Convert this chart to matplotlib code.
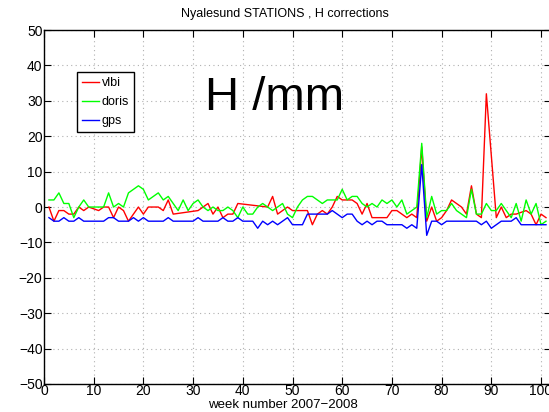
import matplotlib

matplotlib.use("Agg")

import matplotlib.pyplot as plt

plt.rcParams["font.family"] = ["Liberation Sans", "DejaVu Sans"]

weeks = list(range(1, 102))

gps_h = [
    -3, -4, -4, -3, -4, -4, -3, -4, -4, -4,
    -4, -4, -3, -3, -4, -4, -4, -3, -4, -3,
    -4, -4, -4, -4, -3, -4, -4, -4, -4, -4,
    -3, -4, -4, -4, -4, -3, -4, -4, -3, -4,
    -4, -4, -6, -4, -5, -4, -5, -4, -3, -5,
    -5, -5, -2, -2, -2, -2, -2, -1, -2, -3,
    -2, -2, -4, -5, -4, -5, -4, -4, -5, -5,
    -5, -5, -6, -5, -6, 12, -8, -4, -4, -5,
    -4, -4, -4, -4, -4, -4, -4, -5, -4, -6,
    -5, -4, -4, -4, -3, -5, -5, -5, -5, -5, -5,
]

doris_h = [
    2, 2, 4, 1, 1, -3, 0, 2, 0, 0,
    0, 0, 4, 0, 1, 0, 4, 5, 6, 5,
    2, 3, 4, 2, 3, 1, -1, 2, -1, 1,
    2, 0, -1, 0, -1, -1, 0, -1, -3, 0,
    -2, -2, 0, 1, 0, -1, 0, 1, -2, -3,
    0, 2, 3, 3, 2, 1, 2, 2, 2, 5,
    2, 3, 3, 1, 0, 1, 0, 2, 1, 2,
    0, 2, -2, -1, 0, 18, -3, 3, -2, -1,
    -1, 1, -1, -2, -3, 5, -2, -2, 1, -1,
    -1, 1, -1, -3, 1, -4, 2, -2, 1, -5, -4,
]

# vlbi has no solutions for weeks 27-30, 40-44 and 90
vlbi_weeks = list(range(1, 27)) + list(range(31, 40)) + list(range(45, 90)) + list(range(91, 102))
vlbi_h = [
    0, -4, -1, -1, -2, -2, 0, -1, 0, -0.5,
    -1, 0, 0, -3, 0, -1, -4, -2, 0, -2,
    0, 0, 0, -1, 2, -2,
    -1, 0, 1, -2, 0, -3, -2, -2, 1,
    0, 3, -2, -1, 0, -1, -1, -1, -1, -5,
    -2, -1, -2, 0, 3, 2, 2, 2, 1, -2,
    1, -3, -3, -3, -3, -1, -1, -2, -3, -2,
    -3, 17, -4, 0, -4, -3, -1, 2, 1, 0,
    -2, 6, -2, -3, 32,
    -3, 0, -3, -2, -2, -1.5, -1, -2, -5, -2, -3,
]

fig = plt.figure(figsize=(5.49, 4.12), dpi=100)
ax = fig.add_axes([0.0801, 0.068, 0.9235, 0.859])

ax.plot(vlbi_weeks, vlbi_h, color="#ff0000", lw=1.0, label="vlbi")
ax.plot(weeks, doris_h, color="#00ff00", lw=1.0, label="doris")
ax.plot(weeks, gps_h, color="#0000ff", lw=1.0, label="gps")

ax.set_xlim(0, 102)
ax.set_ylim(-50, 50)
ax.set_xticks(range(0, 101, 10))
ax.set_yticks(range(-50, 51, 10))
ax.grid(True, linestyle=(0, (1, 3)), color="#b0b0b0", lw=0.8)
ax.tick_params(direction="in", top=True, right=True, length=5, labelsize=10)
ax.tick_params(axis="x", pad=0)
ax.tick_params(axis="y", pad=1)
for spine in ax.spines.values():
    spine.set_linewidth(1.0)

ax.text(32.4, 27.4, "H /mm", fontsize=34)

leg = ax.legend(loc="upper left", bbox_to_anchor=(0.065, 0.881), fontsize=9,
                fancybox=False, framealpha=1, edgecolor="black",
                handlelength=1.4, handletextpad=0.2, borderpad=0.4,
                labelspacing=0.55, borderaxespad=0)
leg.get_frame().set_linewidth(1.0)

fig.text(285 / 549, 1 - 14 / 412, "Nyalesund STATIONS , H corrections",
         ha="center", va="center", fontsize=9)
fig.text(283 / 549, 1 - 405 / 412, "week number 2007\u22122008",
         ha="center", va="center", fontsize=9.5)

fig.savefig("out.png", dpi=100)
plt.close(fig)
